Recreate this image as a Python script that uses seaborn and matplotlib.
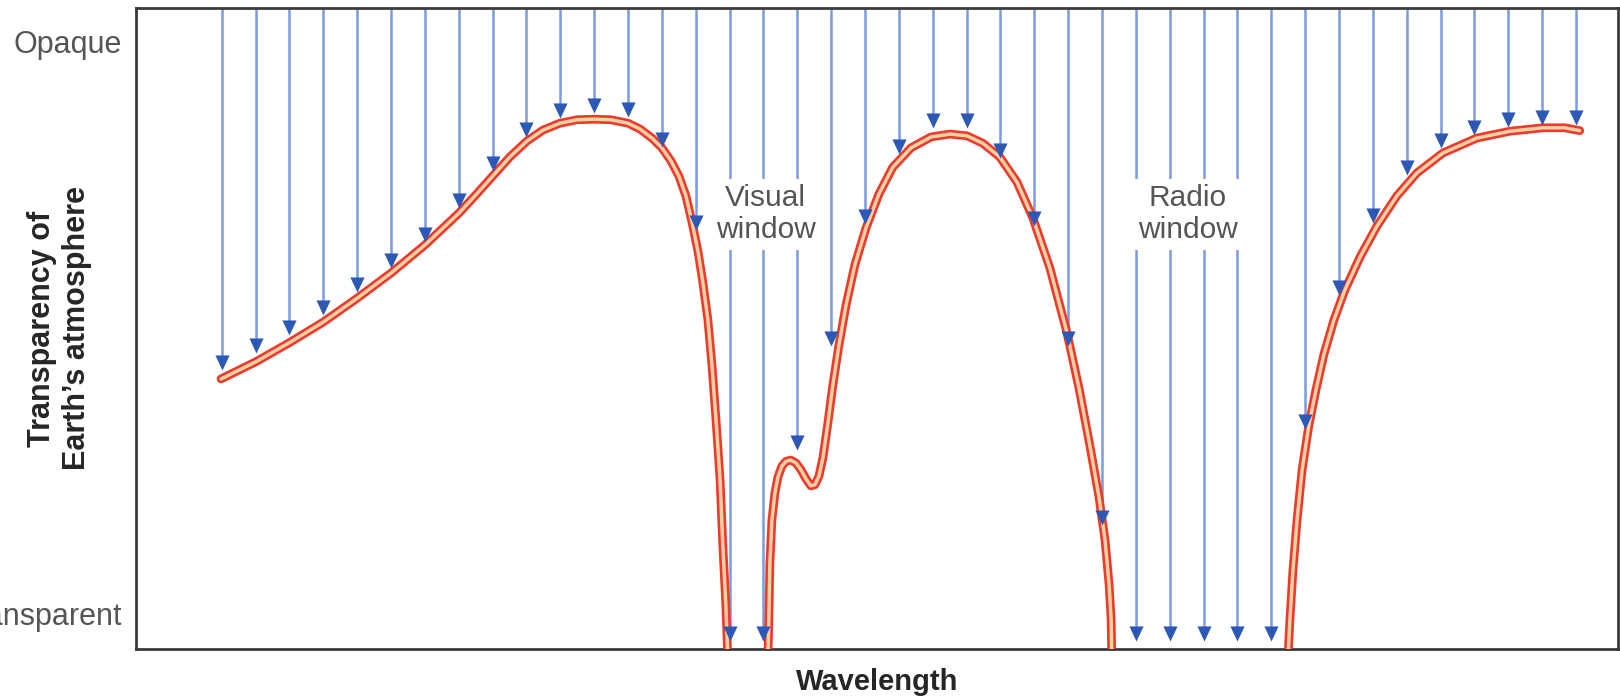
import matplotlib
matplotlib.use("Agg")
import matplotlib.pyplot as plt
import numpy as np
import pandas as pd
import seaborn as sns
from matplotlib.path import Path

# Incoming radiation arrows: x in units of arrow spacing, y where each arrow stops
# (0 = transparent, 1 = opaque)
arrow_x = [0, 1, 2, 3, 4, 5, 6, 7, 8, 9, 10, 11, 12, 13, 14, 15, 16, 17, 18, 19, 20,
           21, 22, 23, 24, 25, 26, 27, 28, 29, 30, 31, 32, 33, 34, 35, 36, 37, 38, 39, 40]
arrow_stop = [0.427, 0.456, 0.488, 0.523, 0.563, 0.605, 0.650, 0.710, 0.774, 0.834,
              0.867, 0.876, 0.869, 0.816, 0.671, -0.047, -0.047, 0.287, 0.469, 0.682,
              0.804, 0.850, 0.850, 0.797, 0.678, 0.469, 0.156, -0.047, -0.047, -0.047,
              -0.047, -0.047, 0.323, 0.558, 0.684, 0.767, 0.815, 0.837, 0.851, 0.855, 0.855]

# Transparency curve, three pieces
left_x = [-0.02, 1.01, 1.99, 2.99, 4.00, 5.00, 6.00, 7.01, 7.51, 8.01, 8.51, 9.02, 9.49,
          9.99, 10.49, 10.99, 11.50, 12.00, 12.35, 12.71, 13.00, 13.27, 13.50, 13.71,
          13.89, 14.07, 14.21, 14.36, 14.48, 14.60, 14.72, 14.80, 14.89, 14.95]
left_y = [0.411, 0.441, 0.474, 0.510, 0.552, 0.596, 0.645, 0.701, 0.733, 0.766, 0.799,
          0.827, 0.846, 0.858, 0.864, 0.865, 0.864, 0.858, 0.848, 0.832, 0.815, 0.792,
          0.766, 0.731, 0.685, 0.633, 0.580, 0.514, 0.435, 0.339, 0.234, 0.121, 0.016,
          -0.080]

mid_x = [16.13, 16.16, 16.19, 16.25, 16.34, 16.43, 16.55, 16.67, 16.81, 16.96, 17.11,
         17.26, 17.40, 17.52, 17.64, 17.76, 17.90, 18.05, 18.23, 18.44, 18.70, 19.03,
         19.41, 19.82, 20.36, 20.95, 21.51, 22.01, 22.48, 22.98, 23.49, 23.96, 24.46,
         24.96, 25.32, 25.64, 25.91, 26.09, 26.21, 26.27, 26.29]
mid_y = [-0.080, -0.010, 0.087, 0.164, 0.212, 0.240, 0.259, 0.267, 0.269, 0.264, 0.252,
         0.236, 0.224, 0.226, 0.241, 0.274, 0.332, 0.400, 0.470, 0.540, 0.610, 0.675,
         0.734, 0.781, 0.815, 0.834, 0.839, 0.836, 0.823, 0.799, 0.755, 0.692, 0.605,
         0.493, 0.395, 0.295, 0.205, 0.129, 0.051, -0.010, -0.080]

right_x = [31.49, 31.55, 31.64, 31.76, 31.91, 32.11, 32.32, 32.55, 32.85, 33.17, 33.62,
           34.12, 34.71, 35.30, 36.07, 37.07, 38.05, 39.02, 39.67, 40.11]
right_y = [-0.080, -0.010, 0.077, 0.164, 0.252, 0.330, 0.392, 0.453, 0.514, 0.566, 0.624,
           0.678, 0.731, 0.771, 0.806, 0.832, 0.844, 0.850, 0.850, 0.845]

ytick_pos = [0, 1]
ytick_labels = ["Transparent", "Opaque"]
windows = [(16.07, 0.699, "Visual\nwindow"), (28.54, 0.699, "Radio\nwindow")]

sns.set_style("white")
plt.rcParams["font.family"] = ["Liberation Sans", "DejaVu Sans"]

fig = plt.figure(figsize=(16.2, 6.97), dpi=100)
ax = fig.add_axes([136 / 1620, 48 / 697, 1482 / 1620, 641 / 697])
ax.set_xlim(-2.531, 41.24)
ax.set_ylim(-0.0612, 1.0594)
top = 1.0594

# arrow shafts
shaft_end = np.array(arrow_stop) + 0.012
ax.vlines(arrow_x, shaft_end, top, color="#7b9be0", linewidth=1.8, zorder=1)

# window labels with white boxes that cut the shafts
for x, y, txt in windows:
    ax.text(x, y, txt, ha="center", va="center", multialignment="center",
            fontsize=21.5, color="#555555", zorder=3,
            bbox=dict(boxstyle="square,pad=0.18", facecolor="white", edgecolor="none"))

# double-stroked curve: red outside, pale orange inside
for xs, ys in [(left_x, left_y), (mid_x, mid_y), (right_x, right_y)]:
    seg = pd.DataFrame({"wavelength": xs, "opacity": ys})
    sns.lineplot(data=seg, x="wavelength", y="opacity", sort=False, estimator=None,
                 color="#ec3b2a", linewidth=6.3, solid_capstyle="round",
                 solid_joinstyle="round", zorder=4, ax=ax)
    sns.lineplot(data=seg, x="wavelength", y="opacity", sort=False, estimator=None,
                 color="#fbcfa6", linewidth=2.5, solid_capstyle="round",
                 solid_joinstyle="round", zorder=5, ax=ax)

# arrow heads, tip at the stop point
head = Path([(0, 0), (-0.47, 1), (0.47, 1), (0, 0)],
            [Path.MOVETO, Path.LINETO, Path.LINETO, Path.CLOSEPOLY])
heads = pd.DataFrame({"x": arrow_x, "y": arrow_stop})
sns.scatterplot(data=heads, x="x", y="y", marker=head, s=470, color="#2d58b5",
                linewidth=0, zorder=6, ax=ax)

ax.set_xticks([])
ax.set_yticks(ytick_pos, ytick_labels)
ax.tick_params(axis="y", length=0, pad=10, labelsize=22, labelcolor="#555555")
ax.set_xlabel("Wavelength", fontsize=21, fontweight="bold", labelpad=14)
ax.set_ylabel("Transparency of\nEarth\u2019s atmosphere", fontsize=22, fontweight="bold")
ax.yaxis.set_label_coords(-0.030, 0.5)

for side in ax.spines.values():
    side.set_color("#3a3a3a")
    side.set_linewidth(2.0)

fig.savefig("out.png", dpi=100)
